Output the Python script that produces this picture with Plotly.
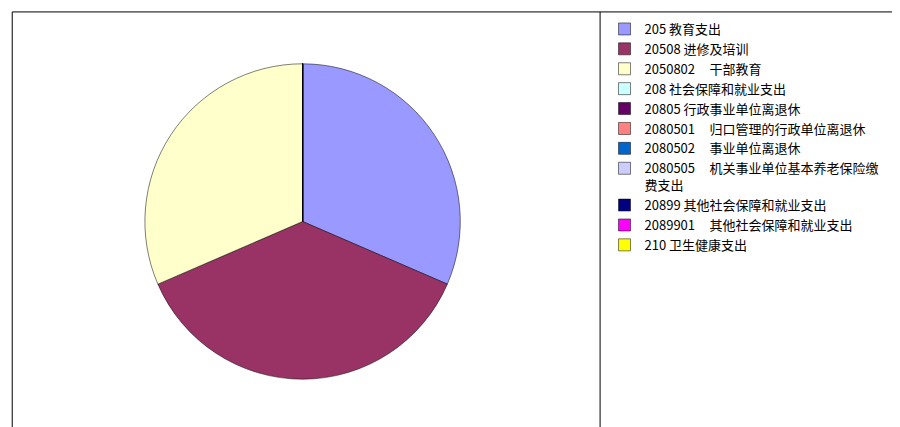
import plotly.graph_objects as go

labels = ["205 教育支出", "20508 进修及培训", "2050802     干部教育", "208 社会保障和就业支出",
          "20805 行政事业单位离退休", "2080501     归口管理的行政单位离退休", "2080502     事业单位离退休",
          "2080505     机关事业单位基本养老保险缴<br>费支出", "20899 其他社会保障和就业支出",
          "2089901     其他社会保障和就业支出", "210 卫生健康支出"]
values = [31.5, 37.0, 31.5, 0, 0, 0, 0, 0, 0, 0, 0]
colors = ["#9999FF", "#993366", "#FFFFCC", "#CCFFFF", "#660066", "#FF8080",
          "#0066CC", "#CCCCFF", "#000080", "#FF00FF", "#FFFF00"]

fig = go.Figure(go.Pie(
    labels=labels, values=values, sort=False, direction="clockwise", rotation=0,
    marker=dict(colors=colors, line=dict(color="#000000", width=0.5)),
    textinfo="none", showlegend=True, domain=dict(x=[0.02, 0.63], y=[0.12, 0.88]),
))
fig.update_layout(
    width=900, height=427, paper_bgcolor="white", plot_bgcolor="white",
    margin=dict(l=6, r=6, t=6, b=6),
    font=dict(family="Noto Sans CJK SC", size=13, color="#000000"),
    legend=dict(x=0.665, y=1.0, xanchor="left", yanchor="top", tracegroupgap=14,
                traceorder="grouped", itemwidth=30, valign="top"),
    shapes=[
        dict(type="rect", xref="paper", yref="paper", x0=-0.002, x1=1.002, y0=-0.005, y1=1.005,
             line=dict(color="#000000", width=1)),
        dict(type="line", xref="paper", yref="paper", x0=0.66, x1=0.66, y0=-0.005, y1=1.005,
             line=dict(color="#000000", width=1)),
    ],
)
fig.write_html("out.html")
